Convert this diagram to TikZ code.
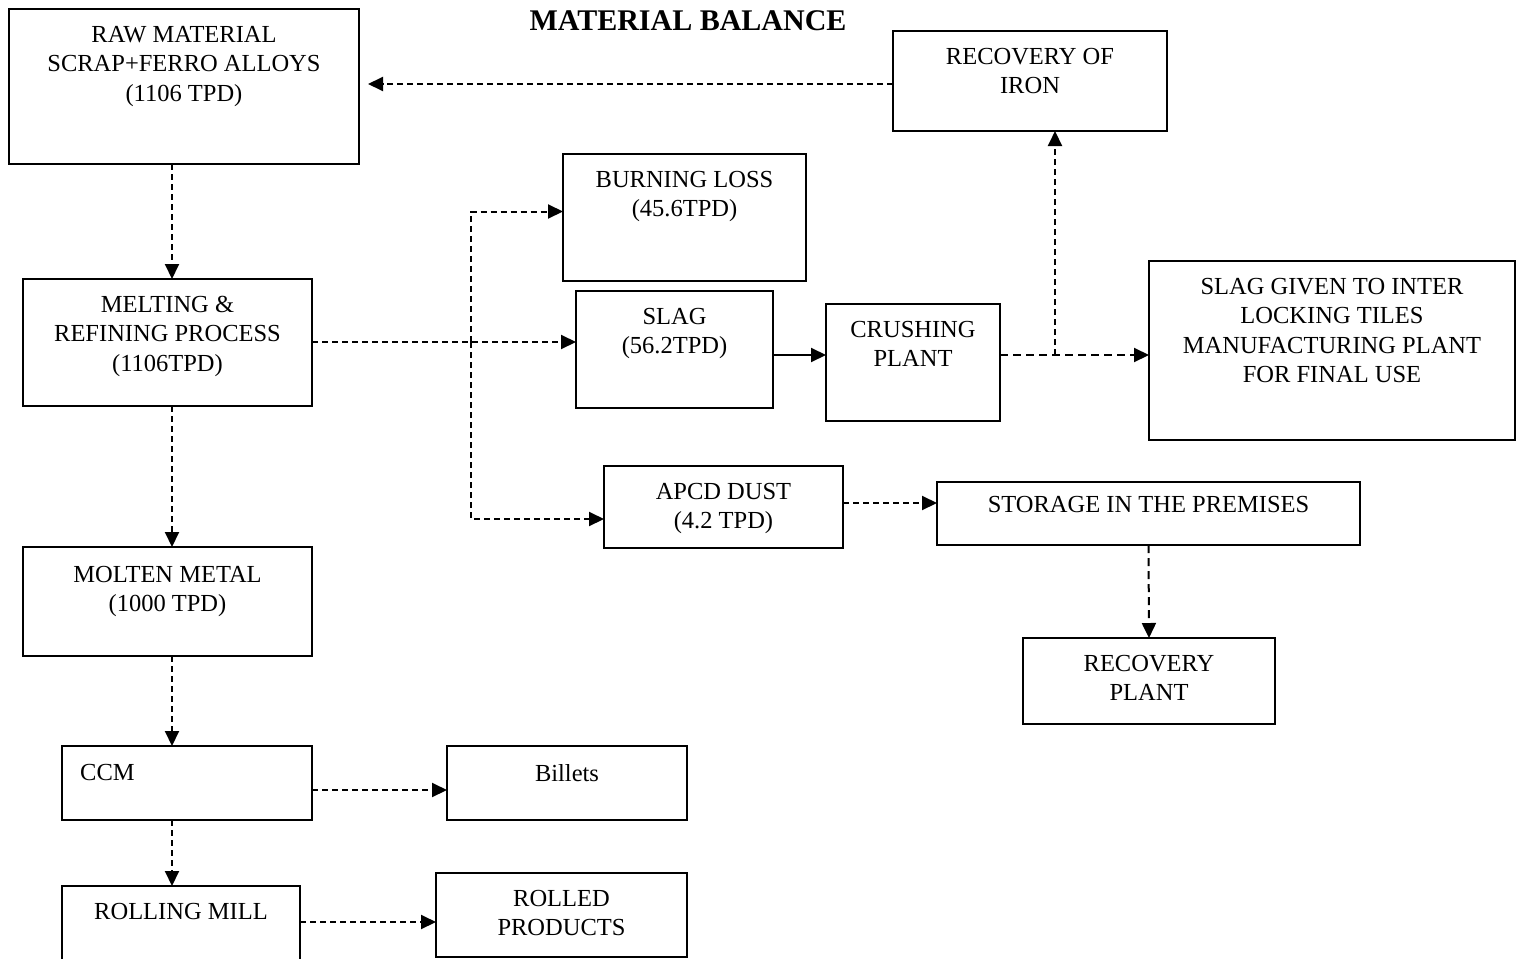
\documentclass[tikz,border=0pt]{standalone}
\usepackage{fontspec}
\setmainfont{Liberation Serif}
\usetikzlibrary{positioning, calc, arrows.meta}

\tikzset{
  box/.style={draw, line width=2.3pt, inner sep=0pt, outer sep=0pt, anchor=north west},
  txt/.style={align=center, inner sep=0pt, font=\fontsize{24.5}{29.5}\selectfont},
  arr/.style={line width=2pt, dash pattern=on 6pt off 4pt, -{Triangle[length=15pt,width=14pt]}},
  longarr/.style={arr, dash pattern=on 8pt off 5pt},
  solidarr/.style={line width=2pt, -{Triangle[length=15pt,width=14pt]}}
}

\begin{document}
\begin{tikzpicture}[x=1pt, y=-1pt]
\useasboundingbox (0,0) rectangle (1517,958);

% title
\node[font=\fontsize{30}{36}\selectfont\bfseries, inner sep=0pt, anchor=north] (title) at (688,10) {MATERIAL BALANCE};

% boxes
\node[box, minimum width=350pt, minimum height=155pt] (raw) at (9,9) {};
\node[box, minimum width=274pt, minimum height=100pt] (iron) at (893,31) {};
\node[box, minimum width=243pt, minimum height=127pt] (burn) at (563,154) {};
\node[box, minimum width=289pt, minimum height=127pt] (melt) at (23,279) {};
\node[box, minimum width=197pt, minimum height=117pt] (slag) at (576,291) {};
\node[box, minimum width=174pt, minimum height=117pt] (crush) at (826,304) {};
\node[box, minimum width=366pt, minimum height=179pt] (given) at (1149,261) {};
\node[box, minimum width=239pt, minimum height=82pt] (apcd) at (604,466) {};
\node[box, minimum width=423pt, minimum height=63pt] (store) at (937,482) {};
\node[box, minimum width=252pt, minimum height=86pt] (rplant) at (1023,638) {};
\node[box, minimum width=289pt, minimum height=109pt] (molten) at (23,547) {};
\node[box, minimum width=250pt, minimum height=74pt] (ccm) at (62,746) {};
\node[box, minimum width=240pt, minimum height=74pt] (billet) at (447,746) {};
\node[box, minimum width=238pt, minimum height=90pt] (roll) at (62,886) {};
\node[box, minimum width=251pt, minimum height=84pt] (rolled) at (436,873) {};

% texts
\node[txt, below=17pt of raw.north] (rawt) {RAW MATERIAL\\SCRAP+FERRO ALLOYS\\(1106 TPD)};
\node[txt, below=17pt of iron.north] (iront) {RECOVERY OF\\IRON};
\node[txt, below=17pt of burn.north] (burnt) {BURNING LOSS\\(45.6TPD)};
\node[txt, below=17pt of melt.north] (meltt) {MELTING \&\\REFINING PROCESS\\(1106TPD)};
\node[txt, below=17pt of slag.north] (slagt) {SLAG\\(56.2TPD)};
\node[txt, below=17pt of crush.north] (crusht) {CRUSHING\\PLANT};
\node[txt, below=17pt of given.north] (givent) {SLAG GIVEN TO INTER\\LOCKING TILES\\MANUFACTURING PLANT\\FOR FINAL USE};
\node[txt, below=17pt of apcd.north] (apcdt) {APCD DUST\\(4.2 TPD)};
\node[txt, below=14pt of store.north] (storet) {STORAGE IN THE PREMISES};
\node[txt, below=17pt of rplant.north] (rplantt) {RECOVERY\\PLANT};
\node[txt, below=19pt of molten.north] (moltent) {MOLTEN METAL\\(1000 TPD)};
\node[txt, anchor=north west] (ccmt) at ([xshift=18pt,yshift=-18pt]ccm.north west) {CCM};
\node[txt, below=18pt of billet.north] (billett) {Billets};
\node[txt, below=17pt of roll.north] (rollt) {ROLLING MILL};
\node[txt, below=17pt of rolled.north] (rolledt) {ROLLED\\PRODUCTS};

% main line down
\coordinate (mcol) at (172,0);
\draw[arr] (raw.south -| mcol) -- (melt.north -| mcol);
\draw[arr] (melt.south -| mcol) -- (molten.north -| mcol);
\draw[arr] (molten.south -| mcol) -- (ccm.north -| mcol);
\draw[arr] (ccm.south -| mcol) -- (roll.north -| mcol);

% iron back to raw material
\coordinate (ironrow) at (0,84);
\draw[arr, shorten >=9pt] (iron.west |- ironrow) -- (raw.east |- ironrow);

% melting outputs
\coordinate (slagrow) at (0,342);
\draw[arr] (melt.east |- slagrow) -- (slag.west |- slagrow);
\coordinate (br) at (471,342);
\draw[arr] (br) |- ([yshift=6pt]burn.west);
\draw[arr] (br) |- ([yshift=-12pt]apcd.west);

% slag route
\coordinate (crushrow) at (0,355);
\draw[solidarr] (slag.east |- crushrow) -- (crush.west |- crushrow);
\draw[longarr] (crush.east |- crushrow) -- (given.west |- crushrow);
\coordinate (jn) at (1055,355);
\draw[arr] (jn) -- (jn |- iron.south);

% dust route
\coordinate (dustrow) at (0,503);
\draw[arr] (apcd.east |- dustrow) -- (store.west |- dustrow);
\draw[longarr] (store.south) -- (rplant.north);

% products
\coordinate (billrow) at (0,790);
\draw[arr] (ccm.east |- billrow) -- (billet.west |- billrow);
\coordinate (rollrow) at (0,922);
\draw[arr] (roll.east |- rollrow) -- (rolled.west |- rollrow);
\end{tikzpicture}
\end{document}
